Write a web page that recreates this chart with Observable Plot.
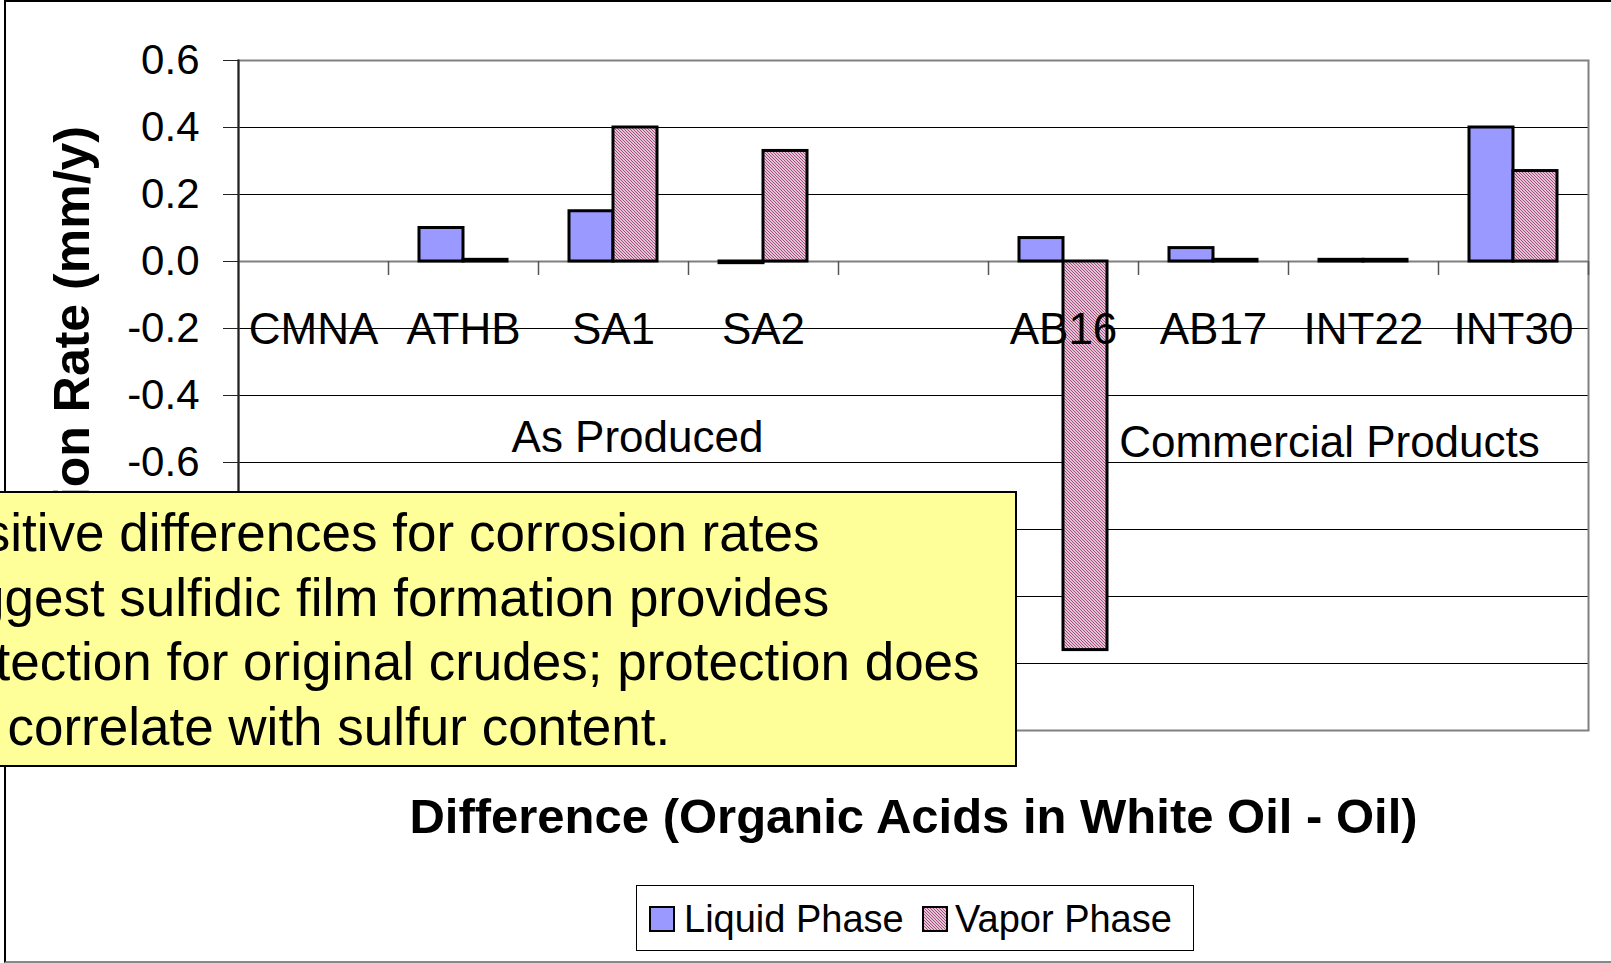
<!DOCTYPE html>
<html>
<head>
<meta charset="utf-8">
<script src="https://cdn.jsdelivr.net/npm/d3@7"></script>
<script src="https://cdn.jsdelivr.net/npm/@observablehq/plot@0.6"></script>
<style>
  html, body { margin: 0; padding: 0; background: #fff; overflow: hidden; width: 1611px; height: 963px; }
  body { position: relative; font-family: 'Liberation Sans', Arial, sans-serif; }
  #chart { position: absolute; left: 0; top: 0; }
  #outer { position: absolute; left: 4px; top: 0; width: 1700px; height: 963px; box-sizing: border-box;
           border-left: 2px solid #000; border-top: 2px solid #000; border-bottom: 2px solid #888; pointer-events: none; }
  #note { position: absolute; left: -120px; top: 491px; width: 1137px; height: 276px; box-sizing: border-box;
          background: #FFFF99; border: 2px solid #000; padding: 8px 0 0 37px;
          font-size: 53px; line-height: 64.5px; white-space: pre; color: #000; }
  #legend { position: absolute; left: 636px; top: 885px; width: 558px; height: 66px; box-sizing: border-box;
            border: 1.5px solid #000; background: #fff; }
  .sw { position: absolute; top: 906px; width: 26px; height: 26px; }
  .lt { position: absolute; top: 899px; font-size: 38px; line-height: 40px; white-space: pre; color: #000; }
</style>
</head>
<body>
<svg width="0" height="0" style="position:absolute">
  <defs>
    <pattern id="vapor" width="3" height="3" patternUnits="userSpaceOnUse">
      <rect width="3" height="3" fill="#ffffff"></rect>
      <path d="M0,0 l3,3 M-1,2 l2,2 M2,-1 l2,2" stroke="#A3457A" stroke-width="1.2"></path>
    </pattern>
  </defs>
</svg>
<div id="chart"></div>
<div id="outer"></div>
<div id="note"></div>
<div id="legend"></div>
<script>
// ---- data ----
const categories = ["CMNA", "ATHB", "SA1", "SA2", "", "AB16", "AB17", "INT22", "INT30"];
const liquidPhase = [null, 0.10, 0.15, -0.005, null, 0.07, 0.04, 0.005, 0.40];
const vaporPhase  = [null, 0.005, 0.40, 0.33, null, -1.16, 0.005, 0.005, 0.27];
const seriesNames = ["Liquid Phase", "Vapor Phase"];
const seriesFills = ["#9999FF", "url(#vapor)"];
const yTicks = [-1.4, -1.2, -1.0, -0.8, -0.6, -0.4, -0.2, 0.0, 0.2, 0.4, 0.6];
const groupLabels = ["As Produced", "Commercial Products"];
const yTitle = "Corrosion Rate (mm/y)";
const xTitle = "Difference (Organic Acids in White Oil - Oil)";
const noteLines = [
  "Positive differences for corrosion rates",
  "suggest sulfidic film formation provides",
  "protection for original crudes; protection does",
  "not correlate with sulfur content."
];

// ---- tables ----
const liquidRows = categories.map((c, i) => ({category: c, value: liquidPhase[i]})).filter(d => d.value != null);
const vaporRows = categories.map((c, i) => ({category: c, value: vaporPhase[i]})).filter(d => d.value != null);
const labelCats = categories.filter(c => c !== "");

const font = "'Liberation Sans', Arial, sans-serif";

const chart = Plot.plot({
  width: 1611,
  height: 963,
  marginLeft: 238,
  marginRight: 23,
  marginTop: 60,
  marginBottom: 233,
  style: {fontFamily: font, fontSize: "42px", color: "#000", background: "transparent", overflow: "visible"},
  x: {type: "band", domain: categories, padding: 0, axis: null},
  y: {domain: [-1.4, 0.6], label: null, axis: null},
  marks: [
    Plot.ruleY(yTicks.filter(t => t !== 0), {stroke: "#000", strokeWidth: 1}),
    Plot.frame({stroke: "#808080", strokeWidth: 2}),
    Plot.ruleY([0], {stroke: "#808080", strokeWidth: 2}),
    Plot.ruleX(categories, {x: d => d, y1: () => 0, y2: () => 0, dx: 75, insetBottom: -14, stroke: "#555", strokeWidth: 1.5}),
    Plot.barY(liquidRows, {x: "category", y: "value", fill: seriesFills[0], stroke: "#000", strokeWidth: 3, insetLeft: 31, insetRight: 75}),
    Plot.barY(vaporRows, {x: "category", y: "value", fill: seriesFills[1], stroke: "#000", strokeWidth: 3, insetLeft: 75, insetRight: 31}),
    Plot.text(labelCats, {x: d => d, y: () => 0, dy: 68, text: d => d, fontSize: 44, fill: "#000"}),
    Plot.text([groupLabels[0]], {x: () => "SA1", y: () => -0.57, dx: 24, lineAnchor: "bottom", text: d => d, fontSize: 44, fill: "#000"}),
    Plot.text([groupLabels[1]], {x: () => "INT22", y: () => -0.583, dx: -34, lineAnchor: "bottom", text: d => d, fontSize: 44, fill: "#000"}),
    Plot.axisY({ticks: yTicks, tickSize: 15, tickPadding: 24, tickFormat: d => d.toFixed(1), fontSize: 42, label: null, stroke: "#222"}),
    Plot.frame({anchor: "left", stroke: "#222", strokeWidth: 2}),
    Plot.text([yTitle], {frameAnchor: "left", rotate: -90, dx: -150, lineAnchor: "bottom", textAnchor: "middle", text: d => d, fontWeight: "bold", fontSize: 50, fill: "#000"}),
    Plot.text([xTitle], {frameAnchor: "bottom", dy: 102, lineAnchor: "bottom", textAnchor: "middle", text: d => d, fontWeight: "bold", fontSize: 49, fill: "#000"})
  ]
});
document.getElementById("chart").appendChild(chart);

// ---- note box ----
document.getElementById("note").innerHTML = noteLines.join("<br>");

// ---- legend ----
const swatchLeft = [649, 922];
const textLeft = [684, 955];
seriesNames.forEach((name, i) => {
  const sw = document.createElementNS("http://www.w3.org/2000/svg", "svg");
  sw.setAttribute("class", "sw");
  sw.setAttribute("width", 26);
  sw.setAttribute("height", 26);
  sw.style.left = swatchLeft[i] + "px";
  sw.innerHTML = `<rect x="1" y="1" width="24" height="24" fill="${seriesFills[i]}" stroke="#000" stroke-width="2"></rect>`;
  document.body.appendChild(sw);
  const t = document.createElement("span");
  t.className = "lt";
  t.style.left = textLeft[i] + "px";
  t.textContent = name;
  document.body.appendChild(t);
});
</script>
</body>
</html>
